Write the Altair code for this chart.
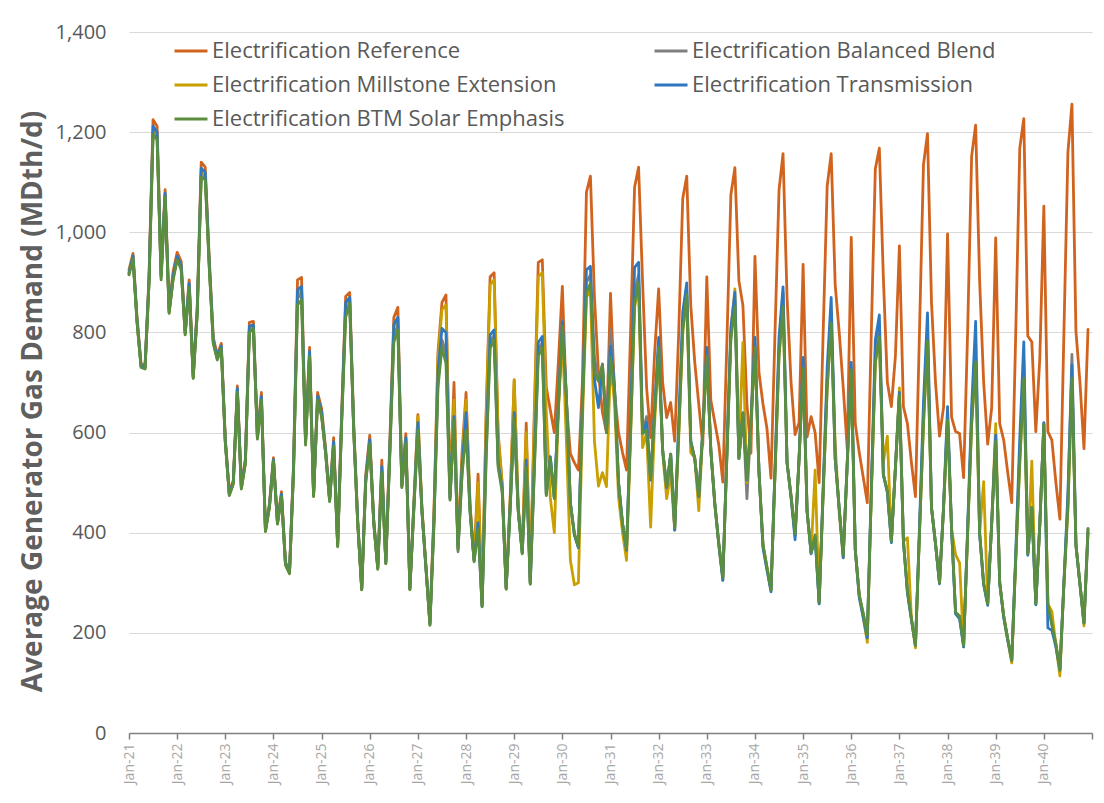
import altair as alt
import pandas as pd

# Month index 0 = Jan-21 ... 239 = Dec-40
reference = [
    925, 958, 830, 738, 735, 915, 1225, 1212, 925, 1085, 850, 922,
    960, 942, 805, 905, 718, 850, 1140, 1130, 948, 790, 755, 778,
    588, 482, 505, 693, 495, 548, 820, 822, 598, 680, 408, 458,
    550, 423, 482, 342, 323, 535, 905, 910, 588, 770, 480, 680,
    648, 568, 470, 590, 378, 640, 872, 880, 618, 425, 290, 515,
    595, 425, 333, 545, 343, 580, 830, 850, 500, 598, 290, 462,
    636, 450, 334, 222, 440, 760, 860, 875, 480, 700, 374, 560,
    680, 455, 348, 517, 258, 640, 911, 919, 600, 500, 290, 470,
    705, 450, 368, 619, 302, 640, 940, 945, 690, 645, 600, 740,
    892, 660, 558, 540, 525, 700, 1080, 1112, 870, 720, 640, 600,
    878, 680, 600, 560, 525, 800, 1090, 1130, 900, 690, 590, 760,
    887, 700, 630, 660, 583, 800, 1067, 1112, 854, 740, 657, 575,
    911, 665, 620, 575, 501, 780, 1075, 1129, 903, 854, 657, 559,
    952, 720, 657, 608, 509, 800, 1084, 1157, 870, 700, 596, 620,
    936, 591, 632, 600, 500, 800, 1092, 1157, 895, 800, 690, 567,
    990, 618, 560, 510, 460, 800, 1127, 1168, 910, 700, 652, 752,
    973, 652, 618, 540, 472, 800, 1135, 1197, 860, 700, 593, 650,
    997, 631, 602, 598, 510, 800, 1152, 1214, 902, 700, 577, 650,
    989, 618, 585, 520, 460, 800, 1168, 1227, 793, 781, 602, 750,
    1052, 602, 585, 500, 427, 800, 1160, 1256, 802, 700, 568, 806,
]

balanced_blend = [
    917, 950, 822, 732, 729, 903, 1200, 1190, 910, 1074, 840, 908,
    948, 928, 797, 893, 710, 838, 1118, 1110, 933, 780, 747, 770,
    582, 476, 499, 683, 489, 540, 805, 811, 589, 667, 404, 452,
    545, 419, 474, 337, 320, 523, 868, 878, 578, 755, 474, 667,
    635, 560, 464, 576, 374, 622, 845, 862, 605, 420, 287, 503,
    580, 420, 329, 524, 339, 560, 795, 815, 492, 585, 287, 450,
    610, 444, 330, 217, 420, 700, 785, 760, 468, 630, 362, 520,
    615, 442, 344, 412, 253, 555, 780, 795, 535, 486, 288, 452,
    632, 444, 360, 535, 298, 525, 765, 780, 476, 550, 469, 650,
    825, 672, 460, 398, 372, 655, 900, 915, 751, 703, 737, 600,
    805, 690, 500, 418, 368, 605, 880, 915, 600, 632, 507, 642,
    775, 565, 492, 557, 410, 605, 815, 885, 582, 548, 474, 602,
    760, 565, 458, 378, 311, 552, 795, 865, 548, 638, 468, 620,
    778, 523, 376, 330, 286, 522, 770, 880, 540, 474, 394, 548,
    735, 442, 360, 395, 261, 482, 705, 840, 548, 448, 355, 538,
    730, 366, 275, 238, 196, 480, 760, 810, 516, 483, 383, 528,
    678, 383, 283, 228, 175, 400, 635, 805, 450, 378, 300, 450,
    635, 408, 241, 233, 175, 400, 630, 780, 398, 298, 258, 418,
    588, 300, 233, 188, 146, 350, 560, 745, 358, 450, 258, 418,
    618, 258, 216, 178, 125, 298, 465, 756, 375, 298, 220, 408,
]

millstone = [
    918, 950, 822, 732, 729, 904, 1205, 1195, 912, 1074, 840, 910,
    950, 930, 798, 895, 710, 840, 1120, 1113, 935, 780, 748, 771,
    582, 476, 499, 685, 489, 540, 808, 812, 590, 668, 404, 452,
    545, 419, 475, 337, 319, 524, 875, 885, 580, 758, 474, 668,
    636, 560, 464, 578, 374, 626, 852, 865, 606, 420, 287, 505,
    582, 420, 329, 528, 339, 565, 812, 828, 493, 588, 287, 452,
    632, 448, 333, 220, 435, 748, 845, 855, 478, 665, 370, 540,
    665, 452, 346, 500, 256, 625, 895, 905, 590, 495, 288, 465,
    705, 448, 365, 600, 300, 620, 911, 920, 640, 470, 400, 640,
    800, 583, 345, 296, 300, 620, 870, 885, 583, 493, 520, 492,
    740, 660, 472, 400, 345, 590, 850, 895, 570, 600, 411, 620,
    760, 560, 468, 520, 405, 590, 800, 870, 560, 550, 444, 600,
    750, 565, 455, 375, 305, 560, 800, 887, 560, 780, 500, 620,
    770, 520, 375, 330, 285, 520, 755, 855, 540, 470, 395, 548,
    728, 442, 360, 525, 258, 478, 688, 820, 575, 440, 350, 538,
    720, 366, 275, 230, 181, 478, 740, 790, 540, 593, 383, 528,
    689, 383, 390, 228, 170, 398, 616, 783, 450, 378, 300, 448,
    625, 408, 356, 340, 172, 398, 616, 741, 398, 502, 258, 418,
    618, 300, 233, 185, 140, 348, 541, 708, 358, 543, 258, 418,
    616, 258, 243, 175, 114, 298, 450, 708, 375, 298, 214, 400,
]

transmission = [
    920, 953, 825, 734, 731, 908, 1212, 1200, 915, 1078, 844, 914,
    952, 934, 800, 898, 713, 843, 1128, 1120, 940, 784, 750, 773,
    584, 478, 501, 688, 491, 543, 812, 815, 592, 672, 405, 454,
    546, 420, 477, 338, 320, 528, 885, 892, 582, 762, 476, 672,
    640, 562, 466, 582, 375, 630, 860, 870, 610, 422, 288, 508,
    586, 421, 330, 532, 340, 568, 815, 830, 495, 590, 288, 455,
    620, 446, 331, 218, 425, 720, 808, 800, 470, 632, 370, 530,
    640, 447, 345, 420, 254, 580, 795, 805, 540, 490, 289, 455,
    640, 446, 360, 545, 299, 540, 780, 792, 478, 552, 470, 655,
    821, 672, 460, 395, 370, 660, 925, 932, 706, 650, 735, 600,
    772, 690, 500, 418, 365, 620, 930, 940, 600, 620, 505, 645,
    790, 565, 490, 557, 405, 620, 840, 899, 583, 548, 472, 605,
    770, 565, 458, 375, 305, 560, 810, 880, 550, 640, 505, 625,
    790, 523, 370, 325, 282, 530, 790, 891, 540, 470, 386, 550,
    750, 442, 358, 390, 258, 490, 730, 870, 548, 448, 350, 540,
    740, 366, 270, 230, 190, 490, 785, 835, 516, 480, 380, 530,
    680, 383, 280, 225, 175, 410, 660, 839, 450, 378, 298, 452,
    652, 408, 238, 228, 172, 410, 650, 822, 398, 296, 255, 420,
    595, 300, 230, 185, 145, 360, 590, 781, 355, 450, 256, 420,
    620, 210, 205, 172, 128, 300, 480, 735, 375, 296, 220, 400,
]

btm_solar = [
    915, 948, 820, 730, 727, 900, 1195, 1185, 905, 1070, 838, 905,
    945, 925, 795, 890, 708, 835, 1110, 1105, 930, 778, 745, 768,
    580, 474, 497, 680, 487, 537, 800, 808, 587, 665, 402, 450,
    543, 417, 472, 335, 318, 520, 855, 865, 575, 752, 472, 665,
    632, 558, 462, 573, 372, 618, 830, 858, 603, 418, 286, 500,
    578, 418, 327, 520, 338, 555, 780, 805, 490, 580, 286, 448,
    605, 442, 328, 215, 415, 690, 770, 738, 465, 625, 366, 515,
    605, 440, 342, 408, 252, 545, 768, 785, 530, 482, 287, 448,
    628, 442, 358, 530, 297, 518, 752, 770, 474, 548, 468, 648,
    812, 670, 458, 398, 372, 650, 880, 898, 718, 703, 735, 600,
    750, 688, 500, 418, 368, 600, 858, 900, 598, 605, 507, 640,
    770, 565, 492, 557, 410, 600, 803, 876, 581, 548, 474, 600,
    753, 565, 458, 378, 311, 548, 786, 852, 548, 638, 507, 618,
    770, 523, 376, 330, 286, 518, 753, 852, 540, 474, 398, 548,
    728, 442, 360, 395, 261, 478, 688, 819, 548, 448, 355, 538,
    725, 366, 275, 238, 196, 478, 741, 791, 516, 483, 383, 528,
    675, 383, 283, 228, 175, 398, 616, 783, 450, 378, 300, 448,
    625, 408, 241, 233, 175, 398, 616, 741, 398, 298, 258, 418,
    583, 300, 233, 188, 146, 348, 541, 708, 358, 450, 258, 418,
    616, 258, 216, 178, 125, 298, 450, 708, 375, 298, 220, 408,
]

series_names = [
    "Electrification Reference",
    "Electrification Balanced Blend",
    "Electrification Millstone Extension",
    "Electrification Transmission",
    "Electrification BTM Solar Emphasis",
]
series_values = [reference, balanced_blend, millstone, transmission, btm_solar]
series_colors = ["#D0641F", "#7F7F7F", "#C9A000", "#2E78C0", "#5B8E3E"]

year_ticks = list(range(0, 241, 12))
y_ticks = [0, 200, 400, 600, 800, 1000, 1200, 1400]

rows = []
for name, vals in zip(series_names, series_values):
    for i, v in enumerate(vals):
        rows.append({"month": i, "value": v, "series": name})
df = pd.DataFrame(rows)

FONT = "Open Sans"

color_enc = alt.Color(
    "series:N",
    scale=alt.Scale(domain=series_names, range=series_colors),
    legend=alt.Legend(
        title=None,
        orient="none",
        direction="horizontal",
        legendX=44,
        legendY=1,
        columns=2,
        columnPadding=83,
        rowPadding=5,
        symbolType="stroke",
        symbolSize=1089,
        symbolStrokeWidth=3,
        labelFontSize=22,
        labelFont=FONT,
        labelColor="#595959",
        labelLimit=600,
        labelOffset=3,
        padding=0,
    ),
)

x_enc = alt.X(
    "month:Q",
    scale=alt.Scale(domain=[0, 240], nice=False, zero=False),
    axis=alt.Axis(
        values=year_ticks,
        labelExpr="datum.value >= 240 ? '' : 'Jan-' + (21 + floor(datum.value / 12))",
        labelAngle=270,
        labelAlign="right",
        labelBaseline="middle",
        labelFontSize=14,
        labelFont=FONT,
        labelColor="#A6A6A6",
        labelPadding=4,
        grid=False,
        domainColor="#808080",
        domainWidth=1.5,
        tickColor="#808080",
        tickWidth=1.5,
        tickSize=6,
        title=None,
    ),
)

y_enc = alt.Y(
    "value:Q",
    scale=alt.Scale(domain=[0, 1400], nice=False),
    axis=alt.Axis(
        values=y_ticks,
        format=",d",
        labelFontSize=20,
        labelFont=FONT,
        labelColor="#595959",
        labelPadding=23,
        domain=False,
        ticks=False,
        grid=True,
        gridColor="#D9D9D9",
        gridWidth=1.2,
        title="Average Generator Gas Demand (MDth/d)",
        titleFont=FONT,
        titleFontSize=28,
        titleFontWeight="bold",
        titleColor="#5F5F5F",
        titleAngle=270,
        titleX=-96,
        titleY=369,
        titleAlign="center",
        titleBaseline="middle",
    ),
)

layers = []
for name in series_names:
    layers.append(
        alt.Chart(df)
        .transform_filter(alt.datum.series == name)
        .mark_line(strokeWidth=2.8, strokeJoin="round", strokeCap="round")
        .encode(x=x_enc, y=y_enc, color=color_enc)
    )

chart = (
    alt.layer(*layers)
    .properties(
        width=963,
        height=701,
        padding={"left": 129, "top": 32, "right": 12, "bottom": 70},
        autosize=alt.AutoSizeParams(type="none"),
        background="white",
    )
    .configure_view(stroke=None)
)

chart.save("out.html", embed_options={"renderer": "svg", "actions": False})
